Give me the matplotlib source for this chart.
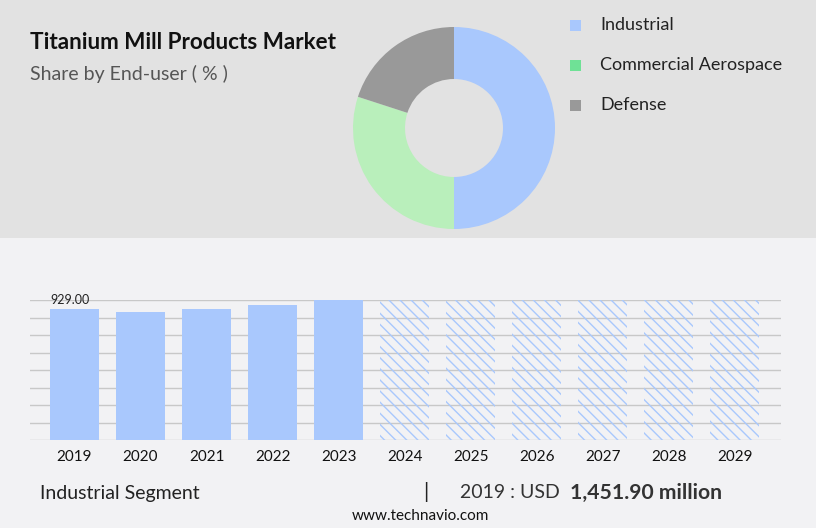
import matplotlib
matplotlib.use("Agg")
import matplotlib.pyplot as plt
from matplotlib.patches import Rectangle

# data
years = ['2019', '2020', '2021', '2022', '2023', '2024', '2025', '2026', '2027', '2028', '2029']
actual = [929.0, 907.0, 929.0, 957.0, 993.0]
forecast = [993.0, 993.0, 993.0, 993.0, 993.0, 993.0]
segments = ['Industrial', 'Commercial Aerospace', 'Defense']
shares = [50.0, 30.0, 20.0]

pie_colors = ['#a9c8fd', '#b9efbb', '#999999']
legend_colors = ['#a9c8fd', '#6fe196', '#999999']
bar_color = '#a9c8fd'

plt.rcParams['font.family'] = ['Lato', 'DejaVu Sans']
plt.rcParams['hatch.color'] = bar_color
plt.rcParams['hatch.linewidth'] = 1.0

W, H = 816, 528
fig = plt.figure(figsize=(W / 100, H / 100), dpi=100)
fig.patch.set_facecolor('#f2f2f4')
fig.patches.append(Rectangle((0, 1 - 238 / H), 1, 238 / H, transform=fig.transFigure,
                             facecolor='#e2e2e2', edgecolor='none', zorder=-10))

def fx(px):
    return px / W

def fy(py):
    return 1 - py / H

# title block
fig.text(fx(30), fy(49), 'Titanium Mill Products Market', fontsize=16.2, fontweight='bold',
         color='#111111', va='baseline')
fig.text(fx(30), fy(80), 'Share by End-user ( % )', fontsize=14, color='#555555', va='baseline')

# donut
ax_pie = fig.add_axes([fx(353), fy(229), 202 / W, 202 / H])
ax_pie.pie(shares, colors=pie_colors, startangle=90, counterclock=False,
           wedgeprops=dict(width=0.515, edgecolor='none'))
ax_pie.set_xlim(-1, 1)
ax_pie.set_ylim(-1, 1)
ax_pie.set_aspect('auto')
ax_pie.axis('off')

# legend
for i, (name, col) in enumerate(zip(segments, legend_colors)):
    yc = 25 + 40 * i
    fig.patches.append(Rectangle((fx(570), fy(yc + 6)), 11 / W, 11 / H, transform=fig.transFigure,
                                 facecolor=col, edgecolor='none'))
    fig.text(fx(600), fy(yc), name, fontsize=13, color='#222222', va='center')

# bar chart
ax = fig.add_axes([fx(30), fy(440), fx(781) - fx(30), (440 - 300) / H])
ax.set_facecolor('none')
x = list(range(len(years)))
n = len(actual)
ax.bar(x[:n], actual, width=0.74, color=bar_color, zorder=3)
ax.bar(x[n:], forecast, width=0.74, facecolor='none', edgecolor=bar_color, linewidth=0,
       hatch='\\\\\\', zorder=3)
ax.set_xlim(-0.674, 10.70)
ax.set_ylim(0, 993)
ax.set_yticks([993 * k / 8 for k in range(9)])
ax.yaxis.grid(True, color='#c8c8c8', linewidth=1, zorder=0)
ax.tick_params(axis='y', left=False, labelleft=False)
ax.tick_params(axis='x', bottom=False, labelsize=11, colors='#111111', pad=4)
ax.set_xticks(x)
ax.set_xticklabels(years)
for s in ax.spines.values():
    s.set_visible(False)
ax.annotate(f'{actual[0]:.2f}', (x[0], actual[0]), xytext=(-3, 2), textcoords='offset points',
            ha='center', va='bottom', fontsize=9, color='#222222')

# footer
fig.text(fx(40), fy(493), 'Industrial Segment', fontsize=14, color='#222222', va='center')
fig.text(fx(423), fy(492), '|', fontsize=15, color='#222222', va='center')
fig.text(fx(460), fy(493), '2019 : USD', fontsize=14, color='#333333', va='center')
fig.text(fx(570), fy(493), '1,451.90 million', fontsize=15.2, fontweight='bold',
         color='#333333', va='center')
fig.text(fx(420), fy(516), 'www.technavio.com', fontsize=11, color='#111111', va='center', ha='center')

fig.savefig('out.png', dpi=100, facecolor=fig.get_facecolor())
